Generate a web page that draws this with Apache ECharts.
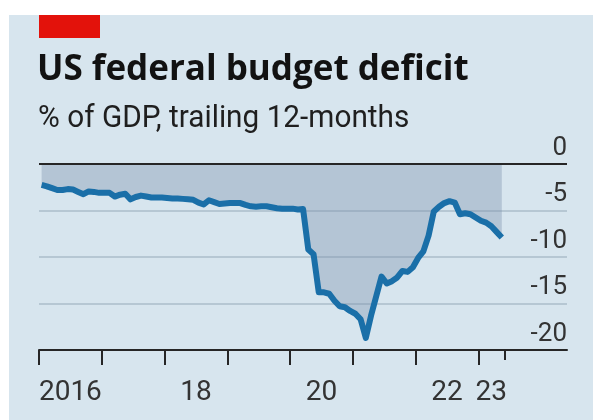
<!DOCTYPE html>
<html>
<head>
<meta charset="utf-8">
<script src="https://cdn.jsdelivr.net/npm/echarts@6/dist/echarts.min.js"></script>
<style>
  html, body { margin: 0; padding: 0; background: #ffffff; }
  #chart { width: 593px; height: 420px; }
</style>
</head>
<body>
<div id="chart"></div>
<script>
// US federal budget deficit, % of GDP, trailing 12 months, monthly from Jan 2016
const startYear = 2016;
const deficit = [
  -2.25, -2.4, -2.6, -2.8, -2.8, -2.7, -2.75, -3.0, -3.25, -2.95, -3.0, -3.1,
  -3.1, -3.1, -3.5, -3.3, -3.2, -3.8, -3.55, -3.4, -3.5, -3.6, -3.6, -3.6,
  -3.65, -3.7, -3.7, -3.75, -3.8, -3.85, -4.15, -4.35, -3.9, -4.1, -4.3, -4.25,
  -4.2, -4.2, -4.2, -4.4, -4.55, -4.6, -4.55, -4.55, -4.65, -4.75, -4.8, -4.8,
  -4.8, -4.9, -4.85, -9.2, -9.7, -13.8, -13.8, -13.95, -14.7, -15.3, -15.4, -15.8,
  -16.1, -16.7, -18.7, -16.3, -14.2, -12.1, -12.85, -12.6, -12.2, -11.5, -11.6, -11.1,
  -10.1, -9.4, -7.7, -5.1, -4.6, -4.2, -4.0, -4.15, -5.4, -5.3, -5.4, -5.75,
  -6.1, -6.3, -6.7, -7.3, -7.9
];
const yearTicks = [2016, 2017, 2018, 2019, 2020, 2021, 2022, 2023];
const yearLabelYears = [2016, 2018, 2020, 2022, 2023];
const yearLabelText = ['2016', '18', '20', '22', '23'];
const yTicks = [-20, -15, -10, -5, 0];

const title = 'US federal budget deficit';
const subtitle = '% of GDP, trailing 12-months';

// monthly points placed mid-month on a fractional-year axis
const points = deficit.map((v, i) => [startYear + (i + 0.5) / 12, v]);
const dataEnd = startYear + deficit.length / 12;
const xMax = 2024.414;
// labels sit in the middle of each year (last year: middle of the covered part)
const labelPos = yearLabelYears.map(y => y + Math.min(1, dataEnd - y) / 2);
const labelMap = {};
labelPos.forEach((p, i) => { labelMap[p.toFixed(4)] = yearLabelText[i]; });

const AXIS_FONT = 'Roboto, sans-serif';
const INK = '#262626';
const chart = echarts.init(document.getElementById('chart'), null, { renderer: 'canvas' });

const baseX = { type: 'value', min: startYear, max: xMax, position: 'bottom', splitLine: { show: false } };

chart.setOption({
  backgroundColor: '#ffffff',
  animation: false,
  graphic: [
    { type: 'rect', left: 9, top: 15, shape: { width: 584, height: 405 }, style: { fill: '#d7e5ee' }, z: -10 },
    { type: 'rect', left: 39, top: 15, shape: { width: 61, height: 23 }, style: { fill: '#e3120b' } },
    { type: 'text', left: 37, top: 53, style: { text: title, font: 'bold 35px "Open Sans", sans-serif', fill: '#121212' } },
    { type: 'text', x: 38, y: 103, scaleX: 0.93, style: { text: subtitle, font: '32px Roboto, sans-serif', fill: '#1f1f1f' } }
  ],
  grid: { left: 39, right: 26, top: 164, bottom: 70, containLabel: false },
  xAxis: [
    Object.assign({}, baseX, {
      axisLine: { show: true, onZero: false, lineStyle: { color: INK, width: 2 } },
      axisTick: { show: true, customValues: yearTicks, length: 15, lineStyle: { color: INK, width: 2 } },
      axisLabel: {
        show: true, customValues: labelPos, margin: 29,
        formatter: v => labelMap[Number(v).toFixed(4)] || '',
        color: '#333333', fontFamily: AXIS_FONT, fontSize: 28
      }
    }),
    Object.assign({}, baseX, {
      axisLine: { show: false, onZero: false },
      axisTick: { show: true, customValues: [dataEnd], length: 10, lineStyle: { color: INK, width: 2 } },
      axisLabel: { show: false }
    })
  ],
  yAxis: {
    type: 'value', position: 'right', min: -20, max: 0, interval: 5,
    axisLine: { show: false },
    axisTick: { show: false },
    axisLabel: {
      inside: true, margin: 0, verticalAlign: 'bottom', padding: [0, 0, 3, 0],
      color: '#333333', fontFamily: AXIS_FONT, fontSize: 26,
      formatter: v => yTicks.includes(v) ? String(v) : ''
    },
    splitLine: { show: true, lineStyle: { color: '#b6c7d3', width: 2 } }
  },
  series: [{
    type: 'line',
    data: points,
    showSymbol: false,
    symbol: 'none',
    lineStyle: { color: '#1a6fa8', width: 6, join: 'round' },
    areaStyle: { color: 'rgb(120,145,170)', opacity: 0.37, origin: 0 },
    markLine: {
      silent: true, symbol: 'none', label: { show: false },
      lineStyle: { color: INK, width: 2, type: 'solid' },
      data: [{ yAxis: 0 }]
    },
    z: 3
  }]
});
</script>
</body>
</html>
